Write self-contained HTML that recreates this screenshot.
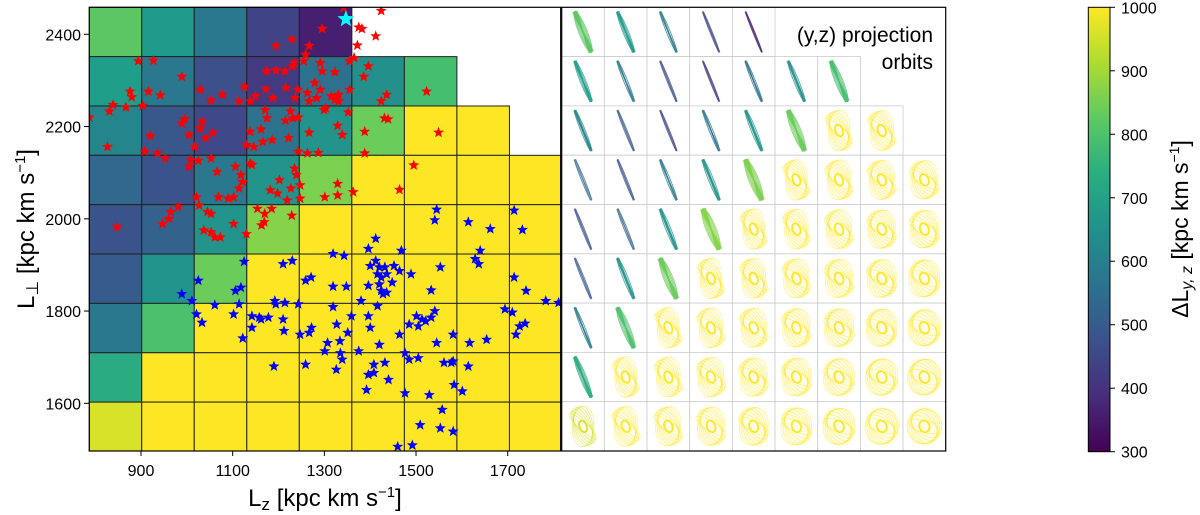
<!DOCTYPE html>
<html><head><meta charset="utf-8"><style>
html,body{margin:0;padding:0;background:#fff;}
svg{display:block;font-family:"Liberation Sans","DejaVu Sans",sans-serif;}
</style></head><body>
<svg id="fig" width="1200" height="515" viewBox="0 0 1200 515" xmlns="http://www.w3.org/2000/svg">
<defs><linearGradient id="vgrad" x1="0" y1="1" x2="0" y2="0">
<stop offset="0" stop-color="#440154"/><stop offset="0.125" stop-color="#472d7b"/><stop offset="0.25" stop-color="#3b528b"/><stop offset="0.375" stop-color="#2c728e"/><stop offset="0.5" stop-color="#21918c"/><stop offset="0.625" stop-color="#28ae80"/><stop offset="0.75" stop-color="#5ec962"/><stop offset="0.875" stop-color="#addc30"/><stop offset="1" stop-color="#fde725"/></linearGradient>
<clipPath id="leftclip"><rect x="89.3" y="7.3" width="471.4" height="443.7"/></clipPath></defs>
<g id="heat"></g>
<g id="stars" clip-path="url(#leftclip)"></g>
<rect x="89.3" y="7.3" width="471.4" height="443.7" fill="none" stroke="#000" stroke-width="1.2"/>
<g id="axes"></g>
<text x="325" y="506" font-size="24" text-anchor="middle" fill="#000">L<tspan font-size="17" dy="4">z</tspan><tspan dy="-4"> [kpc km s</tspan><tspan font-size="15" dy="-9">−1</tspan><tspan dy="9">]</tspan></text>
<text transform="translate(34,229) rotate(-90)" font-size="24" text-anchor="middle" fill="#000">L<tspan font-size="17" dy="4">⊥</tspan><tspan dy="-4"> [kpc km s</tspan><tspan font-size="15" dy="-9">−1</tspan><tspan dy="9">]</tspan></text>
<g id="orbits"></g>
<rect x="561.7" y="7.3" width="384" height="443.7" fill="none" stroke="#000" stroke-width="1.2"/>
<text x="933" y="42" font-size="21" text-anchor="end" fill="#000">(y,z) projection</text>
<text x="933" y="69" font-size="21" text-anchor="end" fill="#000">orbits</text>
<rect x="1088.3" y="7.3" width="21.7" height="444.4" fill="url(#vgrad)" stroke="#000" stroke-width="1"/>
<g id="cbticks"></g>
<text transform="translate(1188,229) rotate(-90)" font-size="23" text-anchor="middle" fill="#000">ΔL<tspan font-size="16" dy="4" font-style="italic">y, z</tspan><tspan dy="-4"> [kpc km s</tspan><tspan font-size="14" dy="-9">−1</tspan><tspan dy="9">]</tspan></text>
</svg>
<script>
const NS="http://www.w3.org/2000/svg";
// ---- data ----
const xEdges=[787,901.6,1016.2,1130.8,1245.4,1360,1474.6,1589.2,1703.8,1818.4];
const yEdges=[2458.6,2351.6,2244.6,2137.6,2030.6,1923.6,1816.6,1709.6,1602.6,1495.6];
const heatRow0=[820,680,580,440,360,null,null,null,null];
const heatRow1=[690,580,470,420,560,650,790,null,null];
const heatRow2=[620,490,450,570,660,840,1000,1000,null];
const heatRow3=[530,480,580,660,860,1000,1000,1000,1000];
const heatRow4=[480,520,660,870,1000,1000,1000,1000,1000];
const heatRow5=[500,660,840,1000,1000,1000,1000,1000,1000];
const heatRow6=[580,800,1000,1000,1000,1000,1000,1000,1000];
const heatRow7=[730,1000,1000,1000,1000,1000,1000,1000,1000];
const heatRow8=[960,1000,1000,1000,1000,1000,1000,1000,1000];
const heatRows=[heatRow0,heatRow1,heatRow2,heatRow3,heatRow4,heatRow5,heatRow6,heatRow7,heatRow8];
const redLz=[1342,1424,1295,1375,1382,1412,1372,1194,1229,1267,1259,1255,1355,1365,894,927,989,1174,1194,1214,1230,1234,1291,1295,1323,1396,1386,1029,916,942,876,880,867,839,831,787,904,1053,1077,1126,1150,1138,1188,1172,1216,1242,1236,1263,1267,1283,1291,1279,1315,1323,1331,1355,1331,1436,1424,1523,1114,1171,1175,1226,1215,1231,1243,1299,1303,1352,1431,1439,1549,1388,1329,1339,1267,1222,1186,1162,1138,1057,1041,1033,1029,1005,995,989,920,1017,827,908,936,953,1009,1025,1005,1053,1066,1106,1138,1142,1130,1146,1166,1243,1263,1287,1388,1495,1235,1239,1247,1118,1122,1114,1202,1182,1227,1198,1090,1102,1069,1021,1027,1219,1247,1301,1329,1329,1363,1464,1154,1170,1169,1163,1185,1229,1045,1053,981,965,961,947,848,1102,1037,1053,1061,1073,1130];
const redLp=[2458,2451,2412,2415,2412,2396,2376,2375,2389,2375,2356,2342,2342,2349,2342,2343,2308,2320,2322,2320,2331,2338,2338,2320,2318,2331,2308,2280,2276,2268,2276,2264,2242,2247,2233,2220,2245,2257,2269,2286,2266,2255,2262,2281,2284,2280,2262,2273,2255,2262,2280,2295,2266,2258,2269,2280,2255,2269,2255,2276,2255,2236,2218,2233,2213,2218,2220,2236,2240,2231,2218,2216,2187,2189,2202,2182,2187,2175,2171,2194,2189,2186,2175,2211,2196,2182,2216,2207,2180,2156,2156,2146,2142,2131,2127,2126,2113,2131,2102,2113,2120,2117,2160,2156,2167,2146,2142,2143,2142,2116,2109,2095,2073,2095,2080,2066,2084,2062,2066,2055,2044,2047,2047,2047,2029,2040,2044,2047,2076,2051,2058,2063,2022,2011,1993,1986,2022,2007,2015,2011,2026,2015,2000,1989,1982,1989,1975,1971,1960,1960,1967];
const blueLz=[989,1011,1025,1021,1033,1061,1102,1114,1106,1118,1125,1122,1142,1142,1158,1162,1178,1190,1192,1194,1214,1210,1230,1210,1212,1243,1247,1259,1271,1267,1272,1259,1301,1307,1319,1343,1319,1348,1319,1327,1334,1335,1339,1326,1351,1359,1375,1380,1396,1412,1400,1412,1420,1416,1424,1432,1436,1420,1424,1436,1428,1396,1416,1396,1400,1420,1408,1432,1396,1408,1392,1440,1452,1468,1464,1448,1489,1464,1476,1485,1505,1485,1505,1501,1513,1521,1533,1541,1476,1529,1545,1509,1460,1492,1557,1553,1581,1561,1577,1581,1581,1583,1601,1614,1617,1654,1541,1545,1614,1662,1553,1533,1629,1637,1640,1694,1710,1714,1714,1732,1740,1718,1726,1738,1783,1811];
const blueLp=[1837,1822,1866,1793,1775,1813,1793,1815,1844,1851,1907,1741,1789,1764,1786,1782,1786,1680,1822,1815,1818,1902,1909,1782,1757,1815,1749,1866,1873,1753,1764,1684,1713,1731,1924,1920,1853,1853,1809,1771,1735,1709,1695,1673,1753,1789,1713,1822,1935,1957,1898,1909,1895,1880,1873,1895,1880,1858,1844,1840,1837,1855,1811,1789,1764,1727,1684,1688,1662,1666,1629,1651,1898,1931,1887,1862,1880,1749,1709,1695,1698,1771,1767,1789,1782,1778,1786,1800,1622,1618,1731,1553,1506,1509,1586,1546,1539,1688,1688,1691,1749,1640,1626,1680,1731,1738,1997,2020,1993,1978,1895,1845,1913,1902,1931,1804,1797,1873,2018,1976,1844,1749,1767,1773,1822,1818];
const cyanLz=[1347];
const cyanLp=[2433];
const xTicks=[900,1100,1300,1500,1700];
const yTicks=[1600,1800,2000,2200,2400];
const cbTicks=[300,400,500,600,700,800,900,1000];
// ---- scales ----
const X=v=>141+(v-900)*0.45838;
const Y=v=>34.3+(2400-v)*0.46125;
const CB=v=>451.7-(v-300)/700*444.4;
const vir=[[68,1,84],[72,40,120],[62,74,137],[49,104,142],[38,130,142],[31,158,137],[53,183,121],[109,205,89],[180,222,44],[253,231,37]];
function color(v){let t=Math.max(0,Math.min(1,(v-300)/700))*9;let i=Math.min(8,Math.floor(t)),f=t-i;const a=vir[i],b=vir[i+1];return `rgb(${a.map((c,k)=>Math.round(c+(b[k]-c)*f)).join(',')})`;}
function el(tag,attrs,parent){const e=document.createElementNS(NS,tag);for(const k in attrs)e.setAttribute(k,attrs[k]);parent.appendChild(e);return e;}
// heatmap
const heat=document.getElementById('heat');
heatRows.forEach((row,r)=>row.forEach((v,c)=>{if(v===null)return;
 const x0=X(xEdges[c]),x1=X(xEdges[c+1]),y0=Y(yEdges[r]),y1=Y(yEdges[r+1]);
 const cx0=Math.max(89.3,x0),cx1=Math.min(560.7,x1),cy0=Math.max(7.3,y0),cy1=Math.min(451,y1);
 const rc=el('rect',{x:cx0,y:cy0,width:cx1-cx0,height:cy1-cy0,fill:color(v),stroke:'#222','stroke-width':1},heat);
 
 
}));
// stars
function starPts(cx,cy,R){const r=R*0.42;let p=[];for(let i=0;i<10;i++){const a=-Math.PI/2+i*Math.PI/5,rr=i%2?r:R;p.push((cx+rr*Math.cos(a)).toFixed(1)+','+(cy+rr*Math.sin(a)).toFixed(1));}return p.join(' ');}
const sg=document.getElementById('stars');
redLz.forEach((v,i)=>{const s=el('polygon',{points:starPts(X(v),Y(redLp[i]),5.8),fill:'#ff0000'},sg);
 
 });
blueLz.forEach((v,i)=>{const s=el('polygon',{points:starPts(X(v),Y(blueLp[i]),5.8),fill:'#0000ff'},sg);
 
 });
cyanLz.forEach((v,i)=>{const s=el('polygon',{points:starPts(X(v),Y(cyanLp[i]),9),fill:'#00ffff'},document.getElementById('fig'));
 
 });
// axes ticks
const ax=document.getElementById('axes');
xTicks.forEach(t=>{const x=X(t);el('line',{x1:x,x2:x,y1:451,y2:456,stroke:'#000'},ax);
 const tx=el('text',{x:x,y:476,'font-size':16,'text-anchor':'middle',fill:'#000'},ax);tx.textContent=t;
 
 });
yTicks.forEach(t=>{const y=Y(t);el('line',{x1:84,x2:89.3,y1:y,y2:y,stroke:'#000'},ax);
 const tx=el('text',{x:81,y:y+6,'font-size':16,'text-anchor':'end',fill:'#000'},ax);tx.textContent=t;
 
 });
// colorbar ticks
const cbg=document.getElementById('cbticks');
cbTicks.forEach(t=>{const y=CB(t);el('line',{x1:1110,x2:1115,y1:y,y2:y,stroke:'#000'},cbg);
 const tx=el('text',{x:1121,y:y+6,'font-size':16,fill:'#000'},cbg);tx.textContent=t;
 
 });
// orbit panel
const og=document.getElementById('orbits');
const cw=42.67,ch=49.3,ox=561.7,oy=7.3;
heatRows.forEach((row,r)=>row.forEach((v,c)=>{if(v===null)return;
 const x=ox+c*cw,y=oy+r*ch;
 el('rect',{x:x,y:y,width:cw,height:ch,fill:'#fff',stroke:'#ccc','stroke-width':0.8},og);
 const g=el('g',{transform:`translate(${x+cw/2},${y+ch/2}) rotate(-22)`},og);
 
 
 const col=color(v);const w=(v-300)/700;
 if(v<950){
   const half=w*w*6+0.6;
   const n=Math.max(2,Math.round(half*2));
   for(let k=0;k<n;k++){
     const off=-half+2*half*k/(n-1);
     el('line',{x1:off*0.6,y1:-22,x2:-off*0.6,y2:22,stroke:col,'stroke-width':1.3,'stroke-opacity':0.6},g);
     el('ellipse',{cx:0,cy:0,rx:Math.abs(off)+0.3,ry:22,fill:'none',stroke:col,'stroke-width':0.9,'stroke-opacity':0.5},g);
   }
 } else {
   const s=(c+r-4)/12; // 0..1 spread across the grid
   const outer=8+s*10;
   el('ellipse',{cx:0,cy:0,rx:outer,ry:22-s*2,fill:col,'fill-opacity':0.12,stroke:'none'},g);
   for(let k=0;k<7;k++){
     const rot=(k-3)*(4+s*14);
     el('ellipse',{cx:0,cy:0,rx:outer*(0.35+0.1*k),ry:20-s*4+k*0.3,fill:'none',stroke:col,'stroke-width':0.7,'stroke-opacity':0.5,transform:`rotate(${rot})`},g);
   }
   el('ellipse',{cx:0,cy:0,rx:3+s*2,ry:6,fill:'none',stroke:col,'stroke-width':1.8},g);
 }
}));
</script>
</body></html>
